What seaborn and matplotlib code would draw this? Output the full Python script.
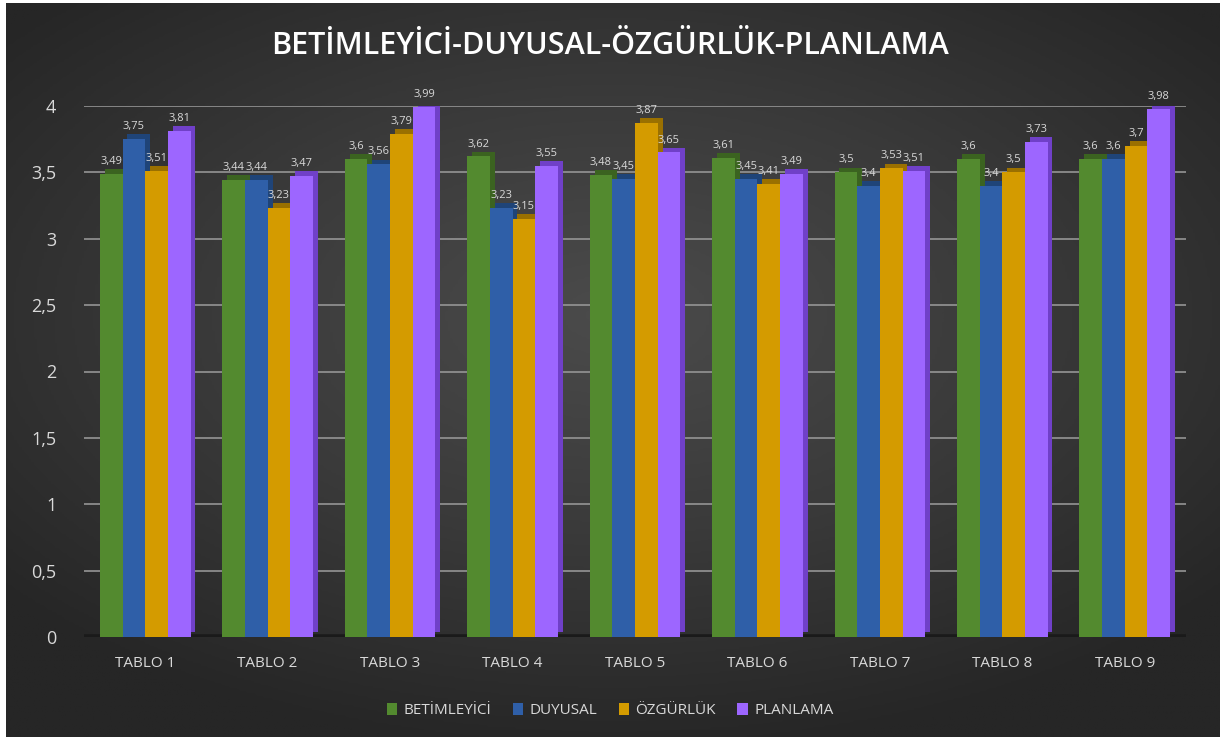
import numpy as np
import pandas as pd
import matplotlib
matplotlib.use("Agg")
import matplotlib.pyplot as plt
import matplotlib.patheffects as pe
import seaborn as sns

tablolar = ["TABLO 1", "TABLO 2", "TABLO 3", "TABLO 4", "TABLO 5",
            "TABLO 6", "TABLO 7", "TABLO 8", "TABLO 9"]
betimleyici = [3.49, 3.44, 3.60, 3.62, 3.48, 3.61, 3.50, 3.60, 3.60]
duyusal = [3.75, 3.44, 3.56, 3.23, 3.45, 3.45, 3.40, 3.40, 3.60]
ozgurluk = [3.51, 3.23, 3.79, 3.15, 3.87, 3.41, 3.53, 3.50, 3.70]
planlama = [3.81, 3.47, 3.99, 3.55, 3.65, 3.49, 3.51, 3.73, 3.98]
seriler = ["BETİMLEYİCİ", "DUYUSAL", "ÖZGÜRLÜK", "PLANLAMA"]

df = pd.DataFrame({
    "tablo": tablolar * 4,
    "seri": np.repeat(seriler, len(tablolar)),
    "deger": betimleyici + duyusal + ozgurluk + planlama,
})

renkler = ["#538a2f", "#2f5fa8", "#d49b00", "#9d66ff"]
yan_renkler = ["#3b6320", "#1f4478", "#9a7000", "#7040c8"]

sns.set_theme(style="dark")
plt.rcParams["font.family"] = ["Open Sans", "DejaVu Sans"]

fig = plt.figure(figsize=(12.2, 7.4), dpi=100, facecolor="white")

# arka plan: koyu radyal gecis
bg = fig.add_axes([6 / 1220, 3 / 740, 1214 / 1220, 734 / 740])
yy, xx = np.mgrid[-1:1:300j, -1:1:500j]
r = np.sqrt((xx / 1.1) ** 2 + ((yy + 0.15) / 1.0) ** 2)
bg.imshow(np.clip(r, 0, 1.2), cmap=matplotlib.colors.LinearSegmentedColormap.from_list(
    "g", ["#4b4b4b", "#3a3a3a", "#262626"]), aspect="auto", extent=[0, 1, 0, 1])
bg.set_axis_off()

ax = fig.add_axes([84 / 1220, 103 / 740, 1102 / 1220, 531 / 740])
ax.set_facecolor("none")
sns.barplot(data=df, x="tablo", y="deger", hue="seri", palette=renkler,
            width=0.74, ax=ax, zorder=3, saturation=1, linewidth=0, edgecolor="none")

for i, cont in enumerate(ax.containers):
    for bar in cont:
        bar.set_path_effects([pe.SimplePatchShadow(offset=(3.5, 3.5), shadow_rgbFace=yan_renkler[i], alpha=1),
                              pe.Normal()])
    ax.bar_label(cont, labels=[f"{v:g}".replace(".", ",") for v in cont.datavalues],
                 padding=5, fontsize=8, color="#d9d9d9", zorder=5)

ax.set_ylim(0, 4)
ax.set_yticks(np.arange(0, 4.01, 0.5))
ax.set_yticklabels([f"{v:g}".replace(".", ",") for v in np.arange(0, 4.01, 0.5)])
ax.yaxis.grid(True, color="#959595", linewidth=1.2, zorder=0)
ax.xaxis.grid(False)
ax.axhline(0, color="#1a1a1a", linewidth=4, zorder=2)
for s in ax.spines.values():
    s.set_visible(False)
ax.tick_params(axis="y", colors="#d9d9d9", labelsize=13, pad=20, length=0)
ax.tick_params(axis="x", colors="#d9d9d9", labelsize=11, pad=14, length=0)
ax.set_xlabel("")
ax.set_ylabel("")

handles, labels = ax.get_legend_handles_labels()
ax.get_legend().remove()
fig.legend(handles, labels, loc="center", bbox_to_anchor=(0.5, 0.04), ncol=4,
           frameon=False, handlelength=0.7, handleheight=0.9, handletextpad=0.4,
           columnspacing=1.4, fontsize=11, labelcolor="#d9d9d9")

fig.text(0.5, 0.938, "BETİMLEYİCİ-DUYUSAL-ÖZGÜRLÜK-PLANLAMA", ha="center", va="center",
         fontsize=22, fontweight="semibold", color="white")

fig.savefig("out.png", dpi=100, facecolor="white")
